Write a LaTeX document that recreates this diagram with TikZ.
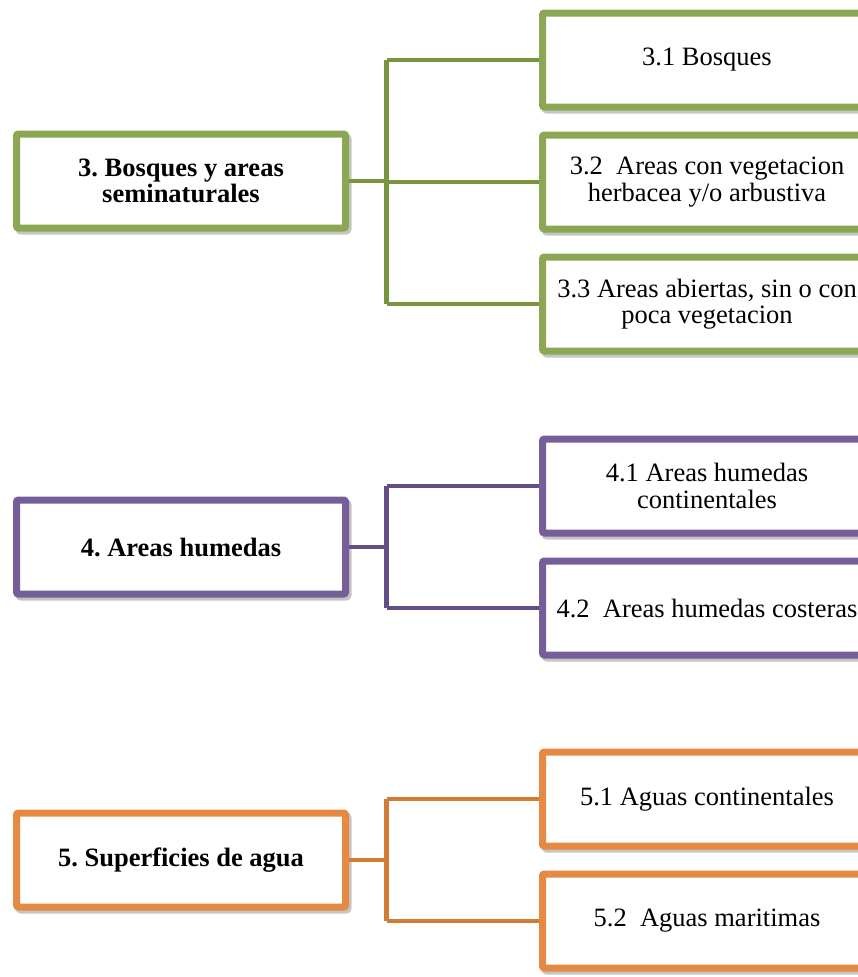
\documentclass[tikz,border=0pt]{standalone}
\usepackage{fontspec}
\setmainfont{Liberation Serif}
\usetikzlibrary{shadows}
\frenchspacing
\definecolor{grnB}{HTML}{8BA753}
\definecolor{grnL}{HTML}{78943F}
\definecolor{purB}{HTML}{765E99}
\definecolor{purL}{HTML}{654E88}
\definecolor{orgB}{HTML}{E68A43}
\definecolor{orgL}{HTML}{D27B35}
\tikzset{
  x=1pt, y=-1pt,
  box/.style={draw=#1, line width=7pt, fill=white, rounded corners=2pt,
    minimum width=329pt, minimum height=94pt, inner sep=2pt,
    align=center, font=\fontsize{26.5}{26.5}\selectfont,
    drop shadow={shadow xshift=2.5pt, shadow yshift=-3pt, fill=black!30,
      draw=black!30, line width=7pt, opacity=0.75}},
  parent/.style={box=#1, font=\fontsize{26.5}{26.5}\selectfont\bfseries},
  link/.style={draw=#1, line width=4.5pt},
}
\begin{document}
\begin{tikzpicture}
\useasboundingbox (0,0) rectangle (858,977);
\clip (0,0) rectangle (858,977);

% Group 3: forests and semi-natural areas
\node[parent=grnB] (g3) at (181,181) {3. Bosques y areas\\seminaturales};
\node[box=grnB] (g31) at (707,60) {3.1 Bosques};
\node[box=grnB] (g32) at (707,182) {3.2\ \ Areas con vegetacion\\herbacea y/o arbustiva};
\node[box=grnB] (g33) at (707,304) {3.3 Areas abiertas, sin o con\\poca vegetacion};
\coordinate (j3) at (386.5,181);
\draw[link=grnL] (g3.east) -- (j3);
\draw[link=grnL] (j3 |- g31.west) -- (j3 |- g33.west);
\draw[link=grnL] (j3 |- g31.west) -- (g31.west);
\draw[link=grnL] (j3 |- g32.west) -- (g32.west);
\draw[link=grnL] (j3 |- g33.west) -- (g33.west);

% Group 4: wetlands
\node[parent=purB] (g4) at (181,547) {4. Areas humedas};
\node[box=purB] (g41) at (707,486) {4.1 Areas humedas\\continentales};
\node[box=purB] (g42) at (707,608) {4.2\ \ Areas humedas costeras};
\coordinate (j4) at (386.5,547);
\draw[link=purL] (g4.east) -- (j4);
\draw[link=purL] (j4 |- g41.west) -- (j4 |- g42.west);
\draw[link=purL] (j4 |- g41.west) -- (g41.west);
\draw[link=purL] (j4 |- g42.west) -- (g42.west);

% Group 5: water bodies
\node[parent=orgB] (g5) at (181,860) {5. Superficies de agua};
\node[box=orgB] (g51) at (707,799) {5.1 Aguas continentales};
\node[box=orgB] (g52) at (707,921) {5.2\ \ Aguas maritimas};
\coordinate (j5) at (386.5,860);
\draw[link=orgL] (g5.east) -- (j5);
\draw[link=orgL] (j5 |- g51.west) -- (j5 |- g52.west);
\draw[link=orgL] (j5 |- g51.west) -- (g51.west);
\draw[link=orgL] (j5 |- g52.west) -- (g52.west);
\end{tikzpicture}
\end{document}
